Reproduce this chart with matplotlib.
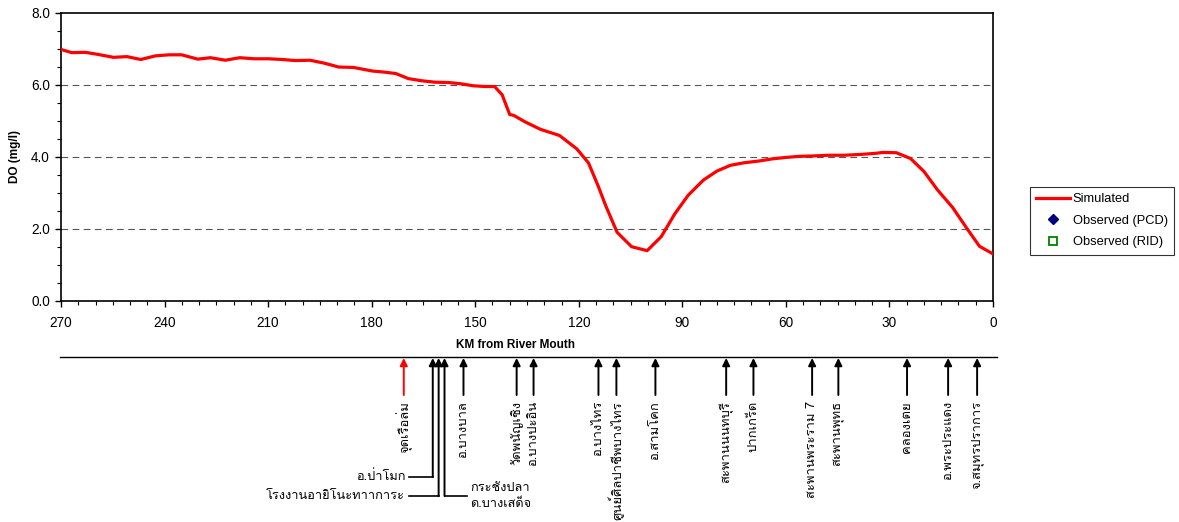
import matplotlib
matplotlib.use("Agg")
import matplotlib.pyplot as plt
from matplotlib.ticker import MultipleLocator, FormatStrFormatter

# simulated DO along the river
km = [270, 266.9, 263, 259.2, 254.8, 250.9, 246.9, 242.7, 238.8, 235, 230.4, 226.7,
      222.4, 218.2, 214.1, 209.8, 205.9, 202, 197.9, 193.8, 189.5, 185.3, 179.8, 176.4,
      173, 169.4, 165.6, 161.7, 157.8, 154.4, 150.6, 147.2, 144.4, 142.2, 140, 138.9,
      135.6, 131.1, 125.6, 120.6, 117.2, 114.4, 112.2, 108.9, 104.7, 100.2, 96.1, 92.2,
      88.3, 83.9, 80, 76.1, 72.2, 67.8, 63.9, 60, 56.1, 52.2, 47.8, 43.3, 38.9, 34.4,
      31.7, 28, 23.9, 20, 16.1, 11.7, 7.8, 3.9, 0]
do_sim = [6.98, 6.89, 6.9, 6.84, 6.76, 6.78, 6.70, 6.80, 6.83, 6.83, 6.71, 6.75,
          6.68, 6.75, 6.72, 6.72, 6.70, 6.67, 6.68, 6.60, 6.49, 6.48, 6.38, 6.35,
          6.31, 6.17, 6.11, 6.07, 6.06, 6.03, 5.97, 5.95, 5.95, 5.72, 5.17, 5.15,
          4.97, 4.76, 4.59, 4.22, 3.83, 3.19, 2.64, 1.90, 1.50, 1.39, 1.78, 2.41,
          2.93, 3.35, 3.60, 3.76, 3.83, 3.88, 3.94, 3.98, 4.01, 4.02, 4.04, 4.04, 4.06, 4.09,
          4.12, 4.11, 3.95, 3.59, 3.08, 2.59, 2.04, 1.51, 1.30]

# stations (vertical labels)
st_km = [170.7, 153.4, 138.0, 133.1, 114.3, 109.1, 97.8, 77.3, 69.4, 52.4, 44.8, 24.9, 13.0, 4.6]
st_names = ["จุดเรือล่ม", "อ.บางบาล", "วัดพนัญเชิง", "อ.บางปะอิน", "อ.บางไทร",
            "ศูนย์ศิลปาชีพบางไทร", "อ.สามโคก", "สะพานนนทบุรี", "ปากเกร็ด",
            "สะพานพระราม 7", "สะพานพุทธ", "คลองเตย", "อ.พระประแดง", "จ.สมุทรปราการ"]
st_colors = ["red"] + ["black"] * 13

# stations with leader lines
ld_km = [162.3, 160.6, 158.9]
ld_names = ["อ.ป่าโมก", "โรงงานอายิโนะทาาการะ", "กระชังปลา\nด.บางเสด็จ"]

thai_fam = ['Loma', 'DejaVu Sans']
plt.rcParams['font.family'] = ['Liberation Sans', 'DejaVu Sans']

W, H = 1179, 522
fig = plt.figure(figsize=(W / 100, H / 100), dpi=100, facecolor='white')
ax = fig.add_axes([61 / W, 1 - 300.7 / H, 932 / W, 288 / H])

ax.plot(km, do_sim, color='red', lw=2.3, label='Simulated', zorder=3)
ax.plot([], [], 'D', color='#000080', ms=5, ls='none', label='Observed (PCD)')
ax.plot([], [], 's', mfc='none', mec='green', mew=1.3, ms=6, ls='none', label='Observed (RID)')

ax.set_xlim(270, 0)
ax.set_ylim(0, 8)
ax.xaxis.set_major_locator(MultipleLocator(30))
ax.xaxis.set_minor_locator(MultipleLocator(5))
ax.yaxis.set_major_locator(MultipleLocator(2))
ax.yaxis.set_minor_locator(MultipleLocator(0.5))
ax.yaxis.set_major_formatter(FormatStrFormatter('%.1f'))
for y in [2, 4, 6]:
    ax.axhline(y, color='#555555', lw=0.8, ls=(0, (6, 4)), zorder=1)
ax.tick_params(which='major', length=4, width=1, labelsize=9.8)
ax.tick_params(axis='x', which='major', pad=7)
ax.tick_params(axis='y', which='major', pad=4)
ax.tick_params(which='minor', length=3, width=0.8)
for s in ax.spines.values():
    s.set_linewidth(1.2)
ax.set_ylabel("DO (mg/l)", fontsize=8.5, fontweight='bold', labelpad=7)
ax.set_xlabel("KM from River Mouth", fontsize=8.5, fontweight='bold')
ax.xaxis.set_label_coords(0.488, -0.132)

leg = ax.legend(loc='upper left', bbox_to_anchor=(1030 / W, 1 - 187 / H),
                bbox_transform=fig.transFigure, fontsize=9.3, frameon=True,
                fancybox=False, edgecolor='black', handlelength=2.6,
                borderpad=0.5, labelspacing=0.72, handletextpad=0.2,
                borderaxespad=0)
leg.get_frame().set_linewidth(0.8)

# lower panel with station arrows, 1 unit = 1 pixel, 0 = the baseline
ax2 = fig.add_axes([61 / W, 0, 932 / W, 165 / H])
ax2.set_xlim(270, 0)
ax2.set_ylim(165, 0)
ax2.axis('off')
ax2.plot([270.3, -1.2], [0, 0], color='black', lw=1, clip_on=False)

for k, n, c in zip(st_km, st_names, st_colors):
    ax2.annotate("", xy=(k, 1), xytext=(k, 38),
                 arrowprops=dict(arrowstyle='-|>', color=c, lw=1.4, mutation_scale=11,
                                 shrinkA=0, shrinkB=0))
    ax2.text(k, 44, n, rotation=90, ha='center', va='top', fontsize=9.4,
             family=thai_fam, color='black')

ld_y = [120, 139, 139]
for i, (k, n) in enumerate(zip(ld_km, ld_names)):
    ax2.annotate("", xy=(k, 1), xytext=(k, ld_y[i]),
                 arrowprops=dict(arrowstyle='-|>', color='black', lw=1.4, mutation_scale=11,
                                 shrinkA=0, shrinkB=0))
    if i < 2:
        ax2.plot([k, 169.3], [ld_y[i], ld_y[i]], color='black', lw=1.2)
        ax2.text(170.3, ld_y[i], n, ha='right', va='center', fontsize=9.2, family=thai_fam)
    else:
        ax2.plot([k, 152.5], [ld_y[i], ld_y[i]], color='black', lw=1.2)
        ax2.text(151.5, ld_y[i], n, ha='left', va='center', fontsize=9.2, family=thai_fam,
                 linespacing=1.45)

fig.savefig("out.png", dpi=100, facecolor='white')
